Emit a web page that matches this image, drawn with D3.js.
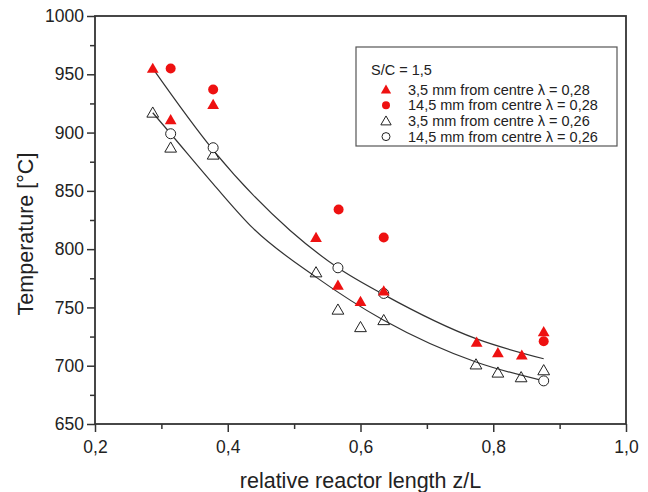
<!DOCTYPE html>
<html>
<head>
<meta charset="utf-8">
<script src="https://cdn.jsdelivr.net/npm/d3@7"></script>
<style>
  body { margin: 0; background: #fff; }
  svg text { font-family: "Liberation Sans", Arial, sans-serif; fill: #222; }
</style>
</head>
<body>
<svg id="canvas"></svg>
<script>
// ########## Data ##########

// 3,5 mm from centre, lambda = 0,28 (filled red triangles)
redTriX = [0.287, 0.314, 0.378, 0.533, 0.566, 0.600, 0.635, 0.775, 0.807, 0.843, 0.876];
redTriT = [955, 911, 924, 810, 769, 755, 764, 720, 711, 709, 729];

// 14,5 mm from centre, lambda = 0,28 (filled red circles)
redDotX = [0.314, 0.378, 0.567, 0.635, 0.876];
redDotT = [955, 937, 834, 810, 721];

// 3,5 mm from centre, lambda = 0,26 (open triangles)
openTriX = [0.287, 0.314, 0.378, 0.533, 0.566, 0.600, 0.635, 0.774, 0.807, 0.842, 0.876];
openTriT = [917, 887, 881, 780, 748, 733, 739, 701, 694, 690, 696];

// 14,5 mm from centre, lambda = 0,26 (open circles)
openDotX = [0.314, 0.378, 0.566, 0.635, 0.876];
openDotT = [899, 887, 784, 762, 687];

// fitted curves, points
fitUpperX = [0.287, 0.378, 0.494, 0.566, 0.635, 0.775, 0.876];
fitUpperT = [955, 885, 816, 784, 761, 723, 706];
fitLowerX = [0.287, 0.314, 0.378, 0.438, 0.533, 0.635, 0.775, 0.876];
fitLowerT = [917, 899, 856, 818, 776, 739, 703, 687];

xTicks = [0.2, 0.4, 0.6, 0.8, 1.0];
xMinor = [0.3, 0.5, 0.7, 0.9];
yTicks = [650, 700, 750, 800, 850, 900, 950, 1000];
yMinor = [675, 725, 775, 825, 875, 925, 975];

legendTitle = "S/C = 1,5";
legendLabels = [
    "3,5 mm from centre \u03bb = 0,28",
    "14,5 mm from centre \u03bb = 0,28",
    "3,5 mm from centre \u03bb = 0,26",
    "14,5 mm from centre \u03bb = 0,26"
];

w = 648;
h = 492;
red = "#ee1111";
ink = "#333";

function zip(xs, ys) { return xs.map(function (x, i) { return { x: x, t: ys[i] }; }); }

// ########## SVG ##########
svg = d3.select("#canvas").attr("width", w).attr("height", h);

x = d3.scaleLinear().domain([0.2, 1.0]).range([95, 626]);
y = d3.scaleLinear().domain([650, 1000]).range([424, 16]);

// ########## Axes ##########
fmt = function (d) { return d3.format(".1f")(d).replace(".", ","); };

xAxis = svg.append("g").attr("transform", "translate(0,424)")
    .call(d3.axisBottom(x).tickValues(xTicks).tickFormat(fmt).tickSize(8).tickPadding(9));
svg.append("g").attr("transform", "translate(0,424)")
    .call(d3.axisBottom(x).tickValues(xMinor).tickFormat("").tickSize(5));

yAxis = svg.append("g").attr("transform", "translate(95,0)")
    .call(d3.axisLeft(y).tickValues(yTicks).tickFormat(d3.format("d")).tickSize(8).tickPadding(3));
svg.append("g").attr("transform", "translate(95,0)")
    .call(d3.axisLeft(y).tickValues(yMinor).tickFormat("").tickSize(5));

svg.selectAll(".domain").remove();
svg.selectAll(".tick line").attr("stroke", ink).attr("stroke-width", 1.5);
xAxis.selectAll("text").attr("font-size", 17.5).attr("fill", "#222");
yAxis.selectAll("text").attr("font-size", 17.5).attr("fill", "#222");

// frame
svg.append("rect")
    .attr("x", x(0.2)).attr("y", y(1000))
    .attr("width", x(1.0) - x(0.2)).attr("height", y(650) - y(1000))
    .attr("fill", "none").attr("stroke", ink).attr("stroke-width", 1.8);

// titles
svg.append("text")
    .attr("x", (x(0.2) + x(1.0)) / 2).attr("y", 488)
    .attr("text-anchor", "middle").attr("font-size", 21.5)
    .text("relative reactor length z/L");

svg.append("text")
    .attr("transform", "translate(33,234) rotate(-90)")
    .attr("text-anchor", "middle").attr("font-size", 21.5)
    .text("Temperature [\u00b0C]");

// ########## Fit curves ##########
line = d3.line()
    .x(function (d) { return x(d.x); })
    .y(function (d) { return y(d.t); })
    .curve(d3.curveMonotoneX);

[zip(fitUpperX, fitUpperT), zip(fitLowerX, fitLowerT)].forEach(function (pts) {
    svg.append("path").attr("d", line(pts))
        .attr("fill", "none").attr("stroke", ink).attr("stroke-width", 1.2);
});

// ########## Markers ##########
triSym = d3.symbol().type(d3.symbolTriangle).size(60);
triSmall = d3.symbol().type(d3.symbolTriangle).size(46);

function triangles(pts, fill, stroke, sym) {
    svg.append("g").selectAll("path").data(pts).enter().append("path")
        .attr("d", sym)
        .attr("transform", function (d) { return "translate(" + x(d.x) + "," + (y(d.t) + 1) + ")"; })
        .attr("fill", fill).attr("stroke", stroke).attr("stroke-width", 1);
}
function dots(pts, fill, stroke, r) {
    svg.append("g").selectAll("circle").data(pts).enter().append("circle")
        .attr("cx", function (d) { return x(d.x); })
        .attr("cy", function (d) { return y(d.t); })
        .attr("r", r)
        .attr("fill", fill).attr("stroke", stroke).attr("stroke-width", 1);
}

triangles(zip(openTriX, openTriT), "none", "#222", triSym);
dots(zip(openDotX, openDotT), "#fff", "#222", 5);
triangles(zip(redTriX, redTriT), red, "none", triSym);
dots(zip(redDotX, redDotT), red, "none", 5);

// ########## Legend ##########
legend = svg.append("g");
legend.append("rect")
    .attr("x", 356).attr("y", 47).attr("width", 261).attr("height", 99)
    .attr("fill", "#fff").attr("stroke", "#555").attr("stroke-width", 1.2);
legend.append("text").attr("x", 371).attr("y", 75).attr("font-size", 14.5).text(legendTitle);

legendStyles = [
    { shape: "tri", fill: red, stroke: "none" },
    { shape: "dot", fill: red, stroke: "none" },
    { shape: "tri", fill: "none", stroke: "#222" },
    { shape: "dot", fill: "#fff", stroke: "#222" }
];

legendLabels.forEach(function (label, i) {
    var cy = 89.5 + i * 15.7;
    var st = legendStyles[i];
    if (st.shape === "tri") {
        legend.append("path").attr("d", triSmall)
            .attr("transform", "translate(386," + (cy + 1) + ")")
            .attr("fill", st.fill).attr("stroke", st.stroke);
    } else {
        legend.append("circle").attr("cx", 386).attr("cy", cy).attr("r", 4)
            .attr("fill", st.fill).attr("stroke", st.stroke);
    }
    legend.append("text").attr("x", 408).attr("y", cy + 5).attr("font-size", 14.5).text(label);
});
</script>
</body>
</html>
